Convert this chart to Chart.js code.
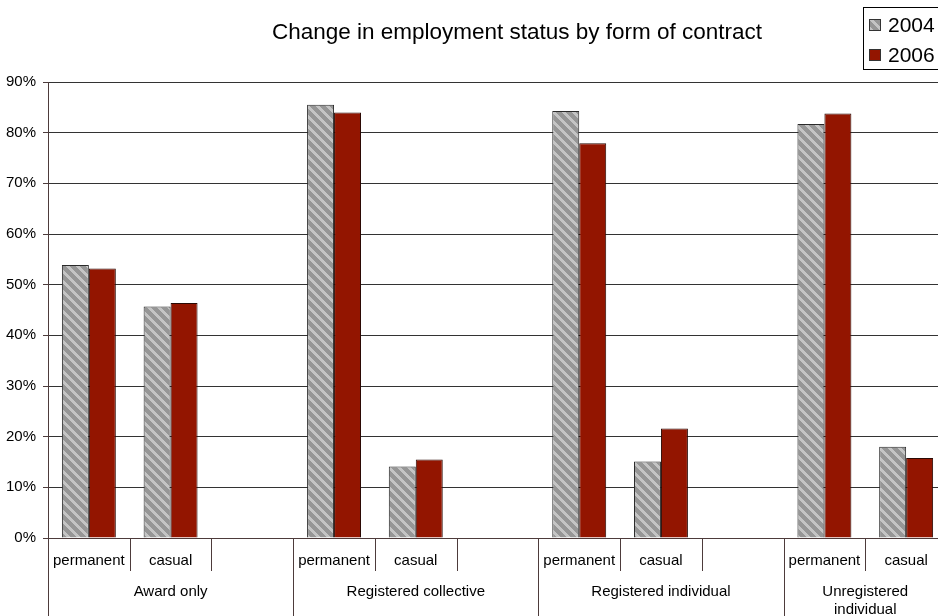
<!DOCTYPE html>
<html>
<head>
<meta charset="utf-8">
<script src="https://cdn.jsdelivr.net/npm/chart.js@4"></script>
<style>
  html, body { margin: 0; padding: 0; background: #fff; overflow: hidden; }
  canvas { display: block; }
</style>
</head>
<body>
<canvas id="barChart" width="960" height="616"></canvas>
<script>
// data (percent)
const categories = ['permanent', 'casual', '', 'permanent', 'casual', '', 'permanent', 'casual', '', 'permanent', 'casual'];
const groupLabels = [['Award only'], ['Registered collective'], ['Registered individual'], ['Unregistered', 'individual']];
const groupSizes = [3, 3, 3, 2];
const series2004 = [53.9, 45.7, null, 85.5, 14.1, null, 84.3, 15.1, null, 81.7, 18.0];
const series2006 = [53.2, 46.4, null, 84.0, 15.5, null, 77.9, 21.6, null, 83.8, 15.8];
const seriesNames = ['2004', '2006'];

const FONT = '"Liberation Sans", Arial, sans-serif';
const RED = '#931500';
const AXIS = '#4d3b3b';

// striped fill for 2004
const makeStripes = () => {
    const n = 10;
    const c = document.createElement('canvas');
    c.width = n; c.height = n;
    const g = c.getContext('2d');
    g.fillStyle = '#969696';
    g.fillRect(0, 0, n, n);
    g.fillStyle = '#c4c4c4';
    for (let y = 0; y < n; y++) {
        for (let x = 0; x < n; x++) {
            const d = ((x - y) % n + n) % n;
            if (d < 4) g.fillRect(x, y, 1, 1);
        }
    }
    return g.createPattern(c, 'repeat');
};
const stripes = makeStripes();

// title, legend and the two-level x labels
const decorations = {
    id: 'decorations',
    afterDraw(chart) {
        const ctx = chart.ctx;
        const xs = chart.scales.x;
        const bottom = chart.chartArea.bottom;
        ctx.save();

        // title
        ctx.fillStyle = '#000';
        ctx.font = '22.5px ' + FONT;
        ctx.textAlign = 'center';
        ctx.textBaseline = 'middle';
        ctx.fillText('Change in employment status by form of contract', 517, 33);

        // legend box
        ctx.fillStyle = '#fff';
        ctx.fillRect(863.5, 7.5, 100, 62);
        ctx.strokeStyle = '#000';
        ctx.lineWidth = 1;
        ctx.strokeRect(863.5, 7.5, 100, 62);
        const fills = [stripes, RED];
        [25, 55].forEach((yy, i) => {
            ctx.fillStyle = fills[i];
            ctx.fillRect(869, yy - 6, 12, 12);
            ctx.strokeStyle = '#333';
            ctx.strokeRect(869.5, yy - 5.5, 11, 11);
            ctx.fillStyle = '#000';
            ctx.font = '21px ' + FONT;
            ctx.textAlign = 'left';
            ctx.fillText(seriesNames[i], 888, yy + 1);
        });

        // category labels and separators
        const half = (xs.getPixelForValue(1) - xs.getPixelForValue(0)) / 2;
        ctx.font = '15px ' + FONT;
        ctx.textAlign = 'center';
        ctx.fillStyle = '#000';
        ctx.strokeStyle = AXIS;
        let idx = 0;
        groupSizes.forEach((size, g) => {
            const first = xs.getPixelForValue(idx);
            const last = xs.getPixelForValue(idx + size - 1);
            for (let k = 0; k < size; k++) {
                const cx = xs.getPixelForValue(idx + k);
                const left = Math.round(cx - half) + 0.5;
                ctx.beginPath();
                ctx.moveTo(left, bottom);
                ctx.lineTo(left, k === 0 ? 616 : bottom + 33);
                ctx.stroke();
                ctx.fillText(categories[idx + k], cx, bottom + 23);
            }
            const mid = (first + last) / 2;
            groupLabels[g].forEach((line, li) => {
                ctx.fillText(line, mid, bottom + 54 + li * 18);
            });
            idx += size;
        });
        const end = Math.round(xs.getPixelForValue(idx - 1) + half) + 0.5;
        ctx.beginPath();
        ctx.moveTo(end, bottom);
        ctx.lineTo(end, 616);
        ctx.stroke();

        ctx.restore();
    }
};

new Chart(document.getElementById('barChart'), {
    type: 'bar',
    data: {
        labels: categories,
        datasets: [
            {
                label: seriesNames[0],
                data: series2004,
                backgroundColor: stripes,
                borderColor: '#2a2a2a',
                borderWidth: 1,
            },
            {
                label: seriesNames[1],
                data: series2006,
                backgroundColor: RED,
                borderColor: '#2a0a05',
                borderWidth: 1,
            },
        ]
    },
    options: {
        responsive: false,
        animation: false,
        devicePixelRatio: 1,
        layout: { padding: { top: 82, right: 13, left: 0, bottom: 0 } },
        datasets: {
            bar: { barPercentage: 1, categoryPercentage: 0.66 }
        },
        plugins: {
            legend: { display: false },
            title: { display: false },
            tooltip: { enabled: false },
        },
        scales: {
            x: {
                ticks: { display: false },
                grid: { display: false },
                border: { color: AXIS, width: 1 },
                afterFit: (s) => { s.height = 78; },
            },
            y: {
                min: 0,
                max: 90,
                ticks: {
                    stepSize: 10,
                    padding: 7,
                    color: '#000',
                    font: { family: FONT, size: 15 },
                    callback: (v) => v + '%',
                },
                grid: { color: '#333', tickLength: 5, tickColor: AXIS },
                border: { color: AXIS, width: 1 },
                afterFit: (s) => { s.width = 48; },
            }
        }
    },
    plugins: [decorations]
});
</script>
</body>
</html>
